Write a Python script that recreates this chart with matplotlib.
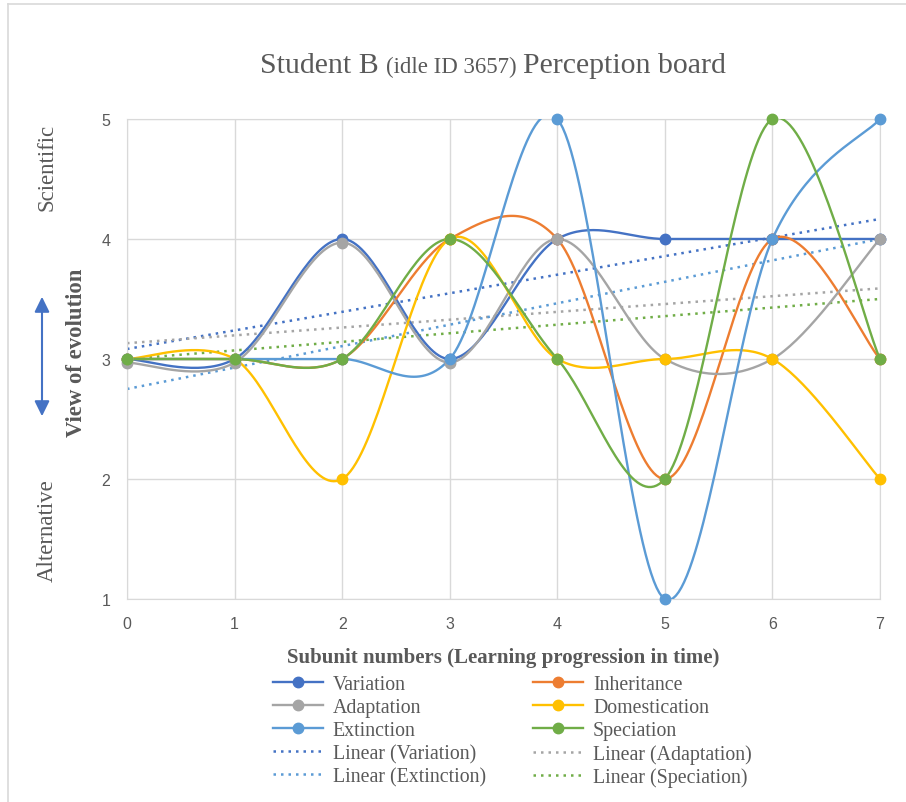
import matplotlib.pyplot as plt
import numpy as np
from matplotlib.offsetbox import TextArea, HPacker, AnchoredOffsetbox
from matplotlib.lines import Line2D
from matplotlib.patches import FancyArrowPatch

# data
subunits = [0, 1, 2, 3, 4, 5, 6, 7]
variation = [3, 3, 4, 3, 4, 4, 4, 4]
inheritance = [3, 3, 3, 4, 4, 2, 4, 3]
adaptation = [2.97, 2.97, 3.97, 2.97, 4, 3, 3, 4]
domestication = [3, 3, 2, 4, 3, 3, 3, 2]
extinction = [3, 3, 3, 3, 5, 1, 4, 5]
speciation = [3, 3, 3, 4, 3, 2, 5, 3]

series = [
    ('Variation', variation, '#4472C4'),
    ('Inheritance', inheritance, '#ED7D31'),
    ('Adaptation', adaptation, '#A5A5A5'),
    ('Domestication', domestication, '#FFC000'),
    ('Extinction', extinction, '#5B9BD5'),
    ('Speciation', speciation, '#70AD47'),
]
trend_names = ['Variation', 'Adaptation', 'Extinction', 'Speciation']

gray = '#595959'
serif = 'Liberation Serif'


def smooth(xs, ys, n=40):
    # excel-like smoothed line (catmull-rom as bezier)
    p = np.column_stack([xs, ys]).astype(float)
    pe = np.vstack([p[0], p, p[-1]])
    t = np.linspace(0, 1, n)[:, None]
    out = []
    for i in range(len(p) - 1):
        p0, p1, p2, p3 = pe[i], pe[i + 1], pe[i + 2], pe[i + 3]
        c1 = p1 + (p2 - p0) / 6
        c2 = p2 - (p3 - p1) / 6
        seg = (1 - t) ** 3 * p1 + 3 * (1 - t) ** 2 * t * c1 + 3 * (1 - t) * t ** 2 * c2 + t ** 3 * p2
        out.append(seg if i == 0 else seg[1:])
    return np.vstack(out)


fig = plt.figure(figsize=(9.06, 8.03), dpi=100)
ax = fig.add_axes([0.1402, 0.2528, 0.8311, 0.5978])

handles = {}
for name, vals, col in series:
    curve = smooth(subunits, vals)
    ax.plot(curve[:, 0], curve[:, 1], color=col, lw=1.7, zorder=3)
    ax.plot(subunits, vals, 'o', color=col, ms=7.5, zorder=4, clip_on=False)
    handles[name] = Line2D([], [], color=col, lw=1.7, marker='o', ms=7.5)

for name, vals, col in series:
    if name in trend_names:
        k, b = np.polyfit(subunits, vals, 1)
        xx = np.array([subunits[0], subunits[-1]])
        ax.plot(xx, k * xx + b, color=col, lw=1.8, ls=(0, (1, 2)), zorder=2)
        handles['Linear (%s)' % name] = Line2D([], [], color=col, lw=1.8, ls=(0, (1, 2)))

ax.set_xlim(0, 7)
ax.set_ylim(1, 5)
ax.set_xticks(subunits)
ax.set_yticks([1, 2, 3, 4, 5])
ax.grid(True, color='#D9D9D9', lw=1)
ax.set_axisbelow(True)
for s in ax.spines.values():
    s.set_color('#D9D9D9')
ax.tick_params(length=0, labelsize=11.5, labelcolor=gray, pad=12)
for lab in ax.get_xticklabels() + ax.get_yticklabels():
    lab.set_fontfamily('Liberation Sans')

ax.set_xlabel('Subunit numbers (Learning progression in time)', fontfamily=serif,
              fontweight='bold', fontsize=15, color=gray, labelpad=12)

fig.text(76 / 906, 1 - 353 / 803, 'View of evolution', rotation=90, fontfamily=serif,
         fontweight='bold', fontsize=16.4, color=gray, ha='center', va='center')
fig.text(47 / 906, 1 - 167 / 803, 'Scientific', rotation=90, fontfamily=serif,
         fontsize=16.5, color=gray, ha='center', va='center')
fig.text(47 / 906, 1 - 531 / 803, 'Alternative', rotation=90, fontfamily=serif,
         fontsize=16.5, color=gray, ha='center', va='center')
fig.patches.append(FancyArrowPatch(
    (42 / 906, 1 - 420 / 803), (42 / 906, 1 - 295 / 803), transform=fig.transFigure,
    arrowstyle='<|-|>,head_length=0.65,head_width=0.32', mutation_scale=14,
    color='#4472C4', lw=1.5))

# title with smaller middle part
parts = [TextArea('Student B ', textprops=dict(fontfamily=serif, fontsize=21.5, color=gray)),
         TextArea('(idle ID 3657) ', textprops=dict(fontfamily=serif, fontsize=16.5, color=gray)),
         TextArea('Perception board', textprops=dict(fontfamily=serif, fontsize=21.5, color=gray))]
title = AnchoredOffsetbox(loc='center', child=HPacker(children=parts, align='baseline', pad=0, sep=0),
                          frameon=False, bbox_to_anchor=(493 / 906, 1 - 66 / 803),
                          bbox_transform=fig.transFigure, borderpad=0, pad=0)
fig.add_artist(title)

order = ['Variation', 'Adaptation', 'Extinction', 'Linear (Variation)', 'Linear (Extinction)',
         'Inheritance', 'Domestication', 'Speciation', 'Linear (Adaptation)', 'Linear (Speciation)']
leg = fig.legend([handles[n] for n in order], order, ncol=2, loc='upper left',
                 bbox_to_anchor=(273 / 906, 1 - 676 / 803), frameon=False,
                 prop=dict(family=serif, size=14.3), labelcolor=gray, handlelength=2.5,
                 handletextpad=0.5, labelspacing=0.2, columnspacing=2.4, borderpad=0,
                 borderaxespad=0)

# chart border (left and top edges visible)
fig.add_artist(Line2D([7.5 / 906, 7.5 / 906], [0, 1 - 4.5 / 803], color='#D9D9D9', lw=1.2))
fig.add_artist(Line2D([7.5 / 906, 1], [1 - 4.5 / 803, 1 - 4.5 / 803], color='#D9D9D9', lw=1.2))

fig.savefig('out.png', dpi=100)
